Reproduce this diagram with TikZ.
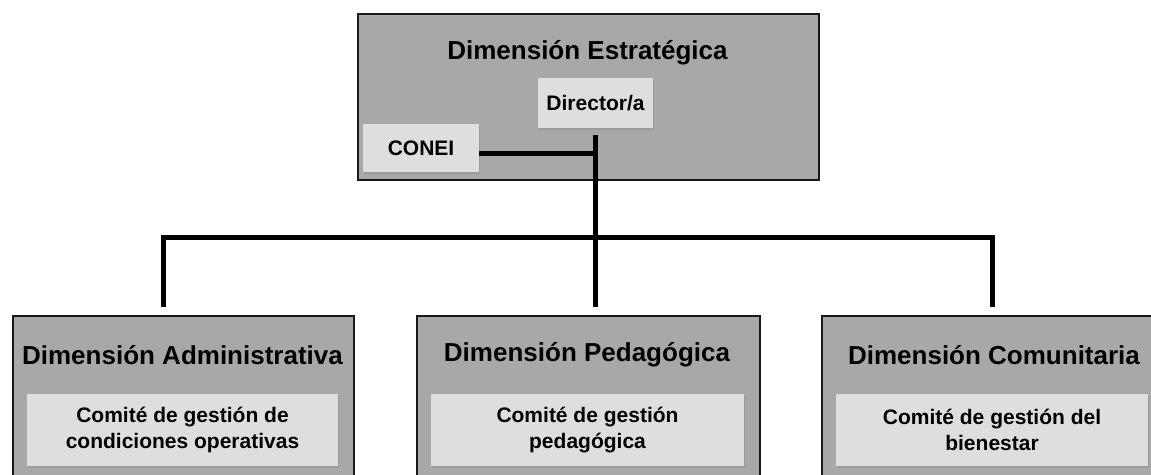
\documentclass[tikz,border=0pt]{standalone}
\usepackage{fontspec}
\setmainfont{Liberation Sans}
\usepackage{tikz}
\usetikzlibrary{positioning,shadows}

\definecolor{dimgray}{RGB}{168,168,168}
\definecolor{boxgray}{RGB}{222,222,222}
\definecolor{edgegray}{RGB}{25,25,25}

\begin{document}
\begin{tikzpicture}[x=0.75pt,y=-0.75pt,
    dim box/.style={rectangle,draw=edgegray,line width=1.4pt,fill=dimgray,anchor=north west,
      inner sep=0pt,minimum height=124.5pt,
      drop shadow={shadow xshift=0.6pt,shadow yshift=-0.9pt,opacity=0.3}},
    dim title/.style={font=\bfseries\fontsize{19.5}{23}\selectfont},
    com box/.style={rectangle,fill=boxgray,inner sep=0pt,minimum height=54pt,align=center,
      font=\bfseries\fontsize{15.75}{19.5}\selectfont,
      drop shadow={shadow xshift=0.6pt,shadow yshift=-1.2pt,opacity=0.35}},
    conn/.style={line width=3.75pt,black,miter limit=4}]

  \useasboundingbox (0,0) rectangle (1151,474);
  \clip (0,0) rectangle (1151,474);
  \fill[white] (0,0) rectangle (1151,474);

  % upper dimension
  \node[dim box,minimum width=345.75pt] (estr) at (357,13) {};
  \node[dim title] (estrT) at (587.5,53) {Dimensión Estratégica};
  \node[com box,minimum width=86.25pt,minimum height=37.5pt] (director) at (595.5,103) {Director/a};
  \node[com box,minimum width=87pt,minimum height=36pt] (conei) at (421,148) {CONEI};

  % lower dimensions
  \node[dim box,minimum width=255.75pt] (adm) at (12,315) {};
  \node[dim box,minimum width=257.25pt] (ped) at (416,315) {};
  \node[dim box,minimum width=256.5pt] (com) at (821,315) {};

  \node[dim title] (admT) at (182.5,355) {Dimensión Administrativa};
  \node[dim title] (pedT) at (587,355) {Dimensión Pedagógica};
  \node[dim title] (comT) at (994,355) {Dimensión Comunitaria};

  \node[com box,minimum width=233.25pt] (admC) at (182.5,430) {Comité de gestión de\\condiciones operativas};
  \node[com box,minimum width=234.75pt] (pedC) at (587.5,430) {Comité de gestión\\pedagógica};
  \node[com box,minimum width=234pt] (comC) at (992,430) {Comité de gestión del\\bienestar};

  % connectors
  \coordinate (barL) at (163,237);
  \coordinate (barR) at (992,237);

  \draw[conn,shorten <=5.25pt,shorten >=6pt] (director.south) -- (director.south |- ped.north);
  \draw[conn] ([yshift=-3.75pt]conei.east) -- ([yshift=-3.75pt]conei.east -| director.south);
  \draw[conn,shorten <=6pt,shorten >=6pt] (barL |- adm.north) -- (barL) -- (barR) -- (barR |- com.north);

\end{tikzpicture}
\end{document}
